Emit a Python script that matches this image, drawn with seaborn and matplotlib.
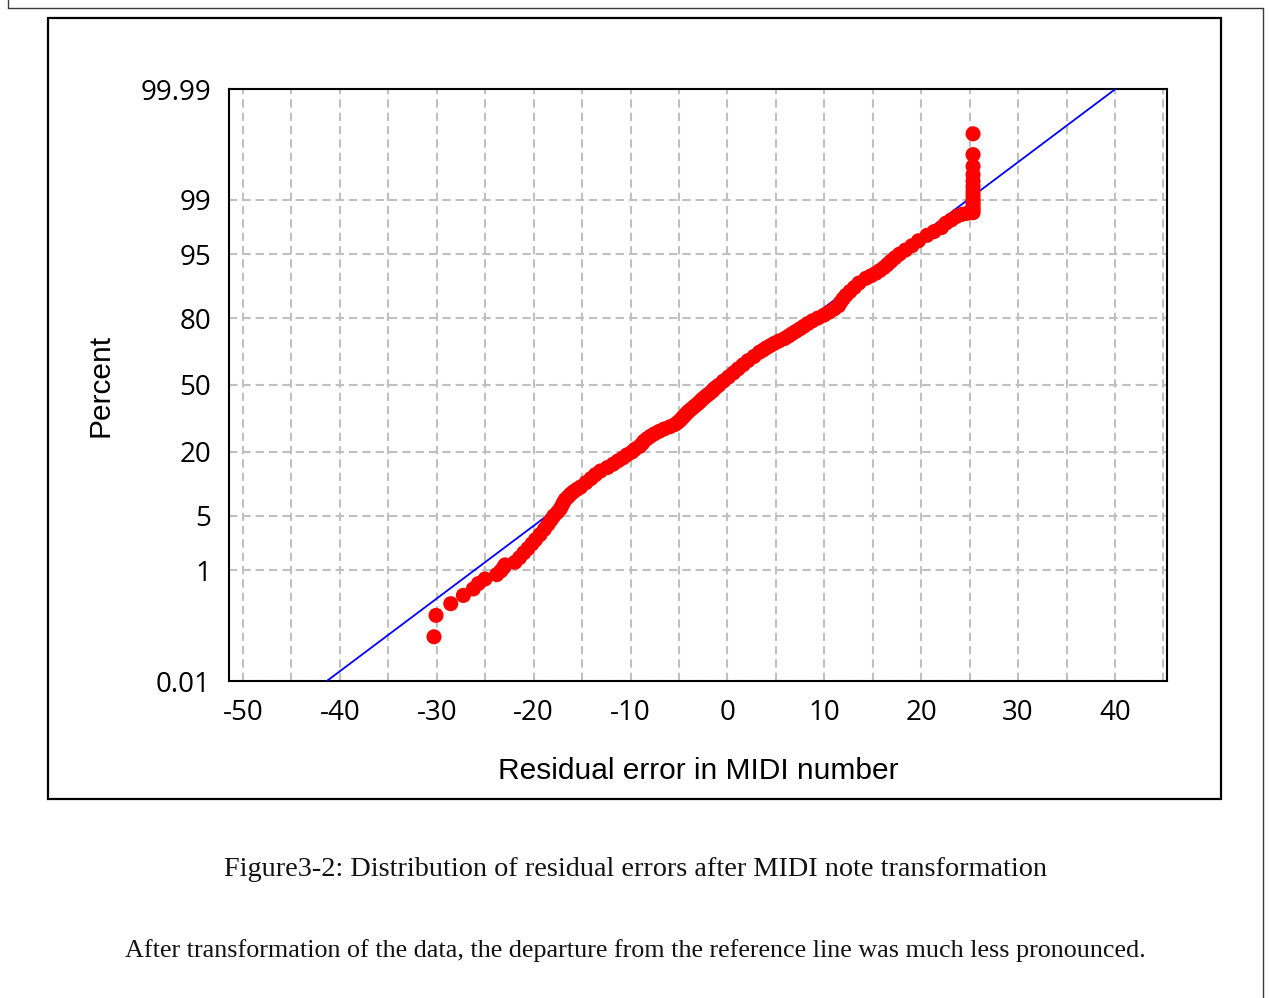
import numpy as np
import pandas as pd
import matplotlib
matplotlib.use("Agg")
import matplotlib.pyplot as plt
from matplotlib.ticker import FixedLocator, FixedFormatter, MultipleLocator
from matplotlib.patches import Rectangle
from matplotlib.lines import Line2D
from statistics import NormalDist
import seaborn as sns

# Sorted residuals (MIDI number) and their cumulative percent positions
residual = [
    -30.29, -30.08, -28.56, -27.26, -26.23, -25.71, -25.02, -23.82, -23.40, -23.13, -22.95,
    -21.93, -21.46, -21.02, -20.59, -20.17, -19.81, -19.35, -18.89, -18.52, -18.21,
    -17.92, -17.54, -17.25, -17.08, -16.92, -16.74, -16.44, -16.19, -15.89, -15.53,
    -15.15, -14.60, -14.08, -13.62, -13.10, -12.38, -11.79, -11.30, -10.78, -10.37,
    -9.85, -9.54, -9.08, -8.82, -8.61, -8.30, -7.94, -7.53, -7.06, -6.55,
    -5.93, -5.41, -5.10, -4.85, -4.64, -4.43, -4.23, -4.02, -3.76, -3.50,
    -3.25, -2.99, -2.78, -2.57, -2.32, -2.06, -1.80, -1.54, -1.39, -1.13,
    -0.87, -0.41, 0.11, 0.62, 1.09, 1.61, 2.12, 2.74, 3.31, 3.70,
    4.03, 4.44, 4.86, 5.32, 5.89, 6.28, 6.66, 7.07, 7.49, 7.90,
    8.31, 8.78, 9.35, 9.97, 10.48, 11.00, 11.46,
    11.67, 11.93, 12.24, 12.65, 13.11, 13.58, 14.30, 14.82, 15.33, 15.74,
    16.16, 16.52, 16.88, 17.29, 17.76, 18.37, 19.05, 19.72, 20.60, 21.32,
    22.09, 22.56, 23.12, 23.69, 24.21, 24.72,
    25.35, 25.35, 25.35, 25.35, 25.35, 25.35, 25.35, 25.35, 25.35, 25.35,
    25.35, 25.35, 25.35, 25.35,
]
percent = [
    0.078, 0.19, 0.30, 0.41, 0.52, 0.63, 0.74, 0.86, 0.97, 1.08, 1.19,
    1.3, 1.5, 1.75, 2.0, 2.3, 2.6, 3.0, 3.5, 4.0, 4.5,
    5.0, 5.5, 6.0, 6.5, 7.0, 7.5, 8.0, 8.5, 9.0, 9.5,
    10, 11, 12, 13, 14, 15, 16, 17, 18, 19,
    20, 21, 22, 23, 24, 25, 26, 27, 28, 29,
    30, 31, 32, 33, 34, 35, 36, 37, 38, 39,
    40, 41, 42, 43, 44, 45, 46, 47, 48, 49,
    50, 52, 54, 56, 58, 60, 62, 64, 66, 67,
    68, 69, 70, 71, 72, 73, 74, 75, 76, 77,
    78, 79, 80, 81, 82, 83, 84,
    85, 86, 87, 88, 89, 90, 91, 91.5, 92, 92.5,
    93, 93.5, 94, 94.5, 95, 95.5, 96, 96.5, 97, 97.3,
    97.6, 97.9, 98.1, 98.3, 98.4, 98.45,
    98.48, 98.59, 98.70, 98.81, 98.92, 99.03, 99.15, 99.26, 99.37, 99.48,
    99.59, 99.70, 99.81, 99.92,
]

# Fitted normal reference line, given by its ends on the percent axis
ref_percent = [0.01, 99.99]
ref_residual = [-41.35, 40.05]

y_ticks = [0.01, 1, 5, 20, 50, 80, 95, 99, 99.99]
y_tick_labels = ["0.01", "1", "5", "20", "50", "80", "95", "99", "99.99"]
x_ticks = [-50, -40, -30, -20, -10, 0, 10, 20, 30, 40]

points = pd.DataFrame({"residual": residual, "percent": percent})
ref = pd.DataFrame({"residual": ref_residual, "percent": ref_percent})

# Normal probability (probit) scale for the percent axis
_nd = NormalDist()
_ppf = np.vectorize(_nd.inv_cdf, otypes=[float])
_cdf = np.vectorize(_nd.cdf, otypes=[float])


def probit_forward(p):
    q = np.clip(np.asarray(p, dtype=float) / 100.0, 1e-9, 1 - 1e-9)
    return _ppf(q)


def probit_inverse(z):
    return _cdf(np.asarray(z, dtype=float)) * 100.0


sns.set_style("white")
plt.rcParams.update({
    "lines.scale_dashes": False,
    "axes.unicode_minus": False,
    "text.color": "black",
    "axes.labelcolor": "black",
    "xtick.color": "black",
    "ytick.color": "black",
})

W, H = 1269, 998
fig = plt.figure(figsize=(W / 100, H / 100), dpi=100)
fig.patch.set_facecolor("white")

# outer page frame and inner chart frame
for xs, ys in [((7.5, 7.5), (0, 7.5)), ((7.5, 1263), (7.5, 7.5)), ((1263, 1263), (7.5, H))]:
    fig.add_artist(Line2D([x / W for x in xs], [1 - y / H for y in ys],
                          color="#3a3a3a", lw=1.0, transform=fig.transFigure))
fig.add_artist(Rectangle((48 / W, 1 - 799 / H), 1173 / W, 781 / H, fill=False,
                         edgecolor="black", lw=1.6, transform=fig.transFigure))

ax = fig.add_axes([229 / W, 1 - 681 / H, 938 / W, 592 / H])
ax.set_yscale("function", functions=(probit_forward, probit_inverse))

sns.lineplot(data=ref, x="residual", y="percent", color="#0000ff", lw=1.3,
             estimator=None, sort=False, ax=ax, zorder=3)
sns.scatterplot(data=points, x="residual", y="percent", color="#ff0000", s=118,
                edgecolor="none", linewidth=0, ax=ax, zorder=4)

ax.set_xlim(-51.45, 45.37)
ax.set_ylim(0.01, 99.99)

ax.yaxis.set_major_locator(FixedLocator(y_ticks))
ax.yaxis.set_major_formatter(FixedFormatter(y_tick_labels))
ax.yaxis.set_minor_locator(FixedLocator([]))
ax.xaxis.set_major_locator(FixedLocator(x_ticks))
ax.xaxis.set_minor_locator(MultipleLocator(5))

grid_kw = dict(color="#c0c0c0", lw=1.5, linestyle=(0, (6.0, 3.6)))
ax.grid(True, which="major", axis="both", **grid_kw)
ax.grid(True, which="minor", axis="x", **grid_kw)
ax.set_axisbelow(True)

for sp in ax.spines.values():
    sp.set_visible(True)
    sp.set_color("black")
    sp.set_linewidth(1.5)

ax.tick_params(axis="both", which="major", direction="out", length=8, width=1.5,
               color="black", labelcolor="black", labelsize=20, pad=5)
ax.tick_params(axis="x", which="minor", length=0)
for lab in ax.get_xticklabels() + ax.get_yticklabels():
    lab.set_fontfamily("Open Sans")
    lab.set_fontsize(20)

label_font = dict(family="Liberation Sans", size=21.5, color="black")
ax.set_xlabel("Residual error in MIDI number", fontdict=label_font, va="center")
ax.set_ylabel("Percent", fontdict=label_font, rotation=90, va="center", ha="center")
ax.xaxis.set_label_coords(0.5, -0.152)
ax.yaxis.set_label_coords(-0.1365, 0.5)

fig.text(635.5 / W, 1 - 876 / H,
         "Figure3-2: Distribution of residual errors after MIDI note transformation",
         ha="center", va="baseline", family="Liberation Serif", size=20.3, color="#111111")
fig.text(635.5 / W, 1 - 957 / H,
         "After transformation of the data, the departure from the reference line was much less pronounced.",
         ha="center", va="baseline", family="Liberation Serif", size=18.8, color="#111111")

fig.savefig("out.png", dpi=100, facecolor="white")
